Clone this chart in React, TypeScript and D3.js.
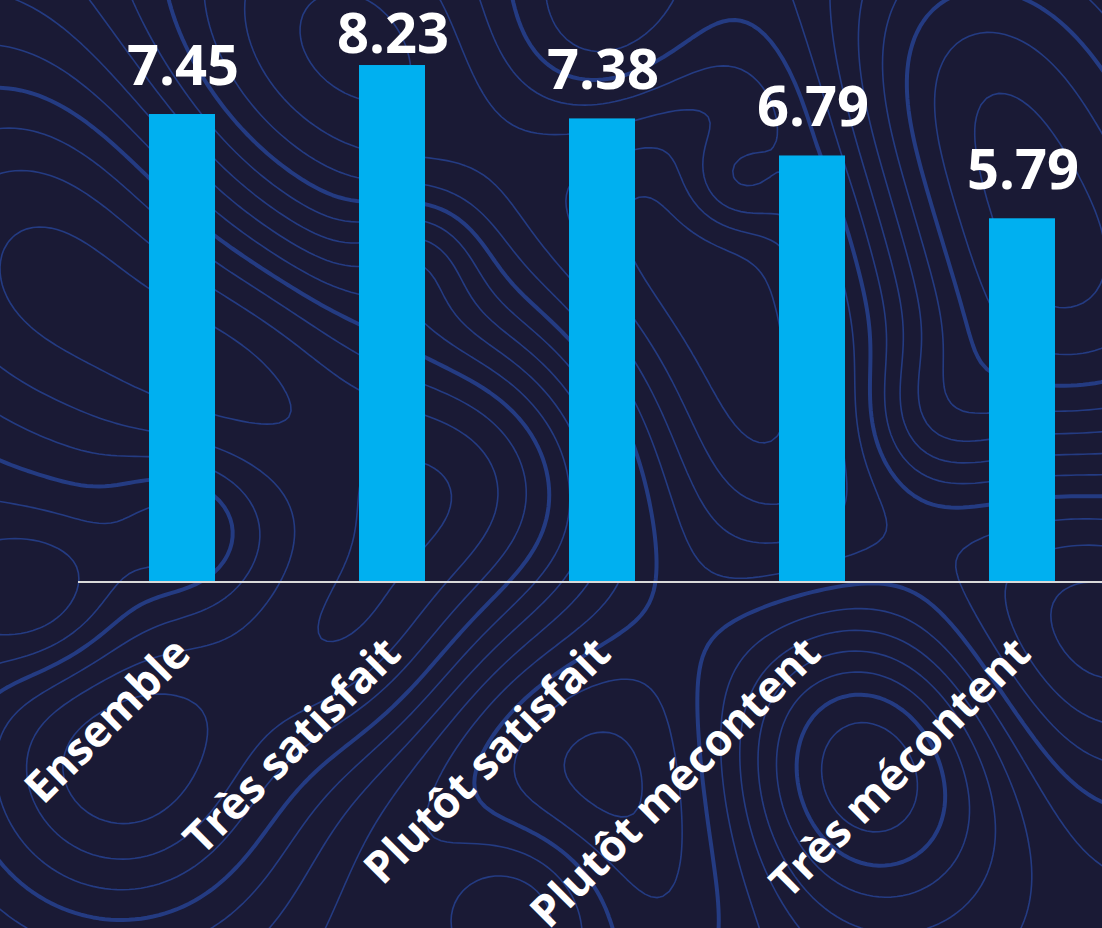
import React, { useMemo } from "react";
import * as d3 from "d3";

const categories = ["Ensemble", "Très satisfait", "Plutôt satisfait", "Plutôt mécontent", "Très mécontent"];
const values = [7.45, 8.23, 7.38, 6.79, 5.79];
const valueLabels = ["7.45", "8.23", "7.38", "6.79", "5.79"];

const W = 1102;
const H = 928;
const BG = "#1a1a35";
const BAR = "#00b0f0";
const CONTOUR = "#243b82";
const FONT = "'Open Sans', 'Noto Sans', sans-serif";

// decorative topographic background: fixed bumps [x, y, amplitude, spread]
const bumps: number[][] = [
  [60, 250, 1, 170], [300, 60, -0.8, 150], [470, 480, 0.9, 120], [120, 760, 1, 130],
  [700, 200, -0.9, 160], [860, 760, 1, 110], [1050, 300, 0.8, 140], [600, 800, -0.7, 150],
  [950, 80, 0.7, 120], [350, 650, 0.6, 90], [780, 450, -0.6, 120], [1080, 620, -0.8, 130],
  [250, 380, 0.5, 100], [600, 30, 0.5, 80], [730, 180, 0.4, 40], [520, 900, 0.6, 70],
  [180, 520, -0.3, 50], [420, 250, 0.3, 45], [920, 420, 0.35, 55], [40, 600, -0.4, 60],
];

function Background() {
  const paths = useMemo(() => {
    const cell = 6;
    const off = 36;
    const nx = Math.ceil((W + 2 * off) / cell) + 1;
    const ny = Math.ceil((H + 2 * off) / cell) + 1;
    const grid = new Array(nx * ny);
    for (let j = 0; j < ny; j++) {
      for (let i = 0; i < nx; i++) {
        const px = i * cell - off, py = j * cell - off;
        let v = 0;
        for (const [bx, by, a, s] of bumps) {
          const d2 = (px - bx) ** 2 + (py - by) ** 2;
          v += a * Math.exp(-d2 / (2 * s * s));
        }
        grid[j * nx + i] = v;
      }
    }
    const thresholds = d3.range(-1.2, 1.3, 0.14);
    const contours = d3.contours().size([nx, ny]).thresholds(thresholds)(grid);
    const path = d3.geoPath(d3.geoIdentity().scale(cell).translate([-off, -off]));
    return contours.map((c, k) => ({ d: path(c as any) || "", thick: k % 5 === 2 }));
  }, []);
  return (
    <g>
      {paths.map((p, i) => (
        <path key={i} d={p.d} fill="none" stroke={CONTOUR} strokeWidth={p.thick ? 4 : 1.6} strokeLinejoin="round" />
      ))}
    </g>
  );
}

export default function App() {
  const x = d3.scaleBand<string>().domain(categories).range([77, 1127]).paddingInner(0.6857).paddingOuter(0.3429);
  const y = d3.scaleLinear().domain([0, 9.265]).range([582, 0]);
  return (
    <div style={{ position: "absolute", left: 0, top: 0 }}>
      <style>{`body{margin:0;background:${BG}}`}</style>
      <svg width={W} height={H} style={{ display: "block" }}>
        <rect width={W} height={H} fill={BG} />
        <Background />
        {categories.map((c, i) => (
          <rect key={c} x={x(c)} y={y(values[i])} width={x.bandwidth()} height={y(0) - y(values[i])} fill={BAR} />
        ))}
        <line x1={78} x2={W} y1={582} y2={582} stroke="#d9d9d9" strokeWidth={2} />
        {categories.map((c, i) => (
          <text key={c + "v"} x={(x(c) as number) + x.bandwidth() / 2 + 1} y={Math.max(y(values[i]) - 29, 53)}
            textAnchor="middle" fill="#fff" fontFamily={FONT} fontWeight={700} fontSize={56}>
            {valueLabels[i]}
          </text>
        ))}
        {categories.map((c) => (
          <text key={c + "l"} transform={`translate(${(x(c) as number) + x.bandwidth() / 2 + 11},656) rotate(-45)`}
            textAnchor="end" fill="#fff" fontFamily={FONT} fontWeight={700} fontSize={44}>
            {c}
          </text>
        ))}
      </svg>
    </div>
  );
}
